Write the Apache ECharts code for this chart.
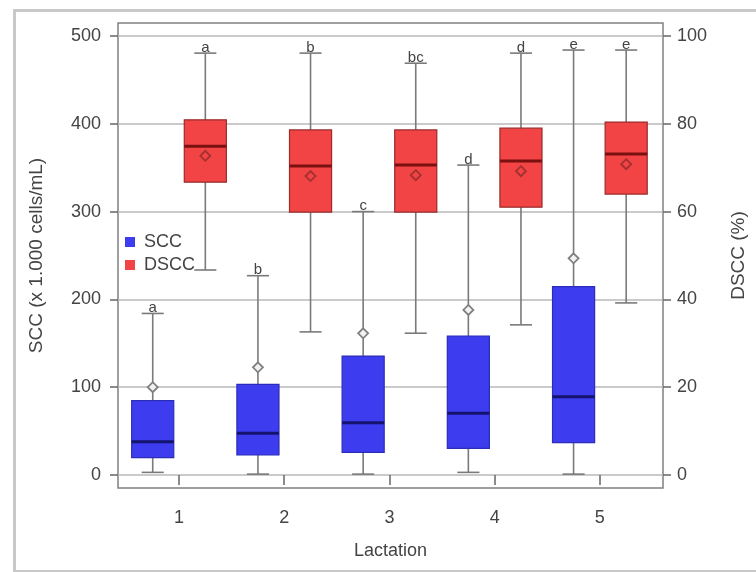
<!DOCTYPE html>
<html>
<head>
<meta charset="utf-8">
<script src="https://cdn.jsdelivr.net/npm/echarts@6/dist/echarts.min.js"></script>
<style>html,body{margin:0;padding:0;background:#fff}#c{width:756px;height:572px}</style>
</head>
<body>
<div id="c"></div>
<script>
// ---- data ----
const categories = ['1', '2', '3', '4', '5'];
const leftTicks = [0, 100, 200, 300, 400, 500];
const rightTicks = [0, 20, 40, 60, 80, 100];

const sccMin    = [3, 1, 1, 3, 1];
const sccQ1     = [19.7, 22.8, 25.8, 30.4, 36.8];
const sccMedian = [37.9, 47.5, 59.6, 70.3, 89.2];
const sccQ3     = [84.6, 103.3, 135.5, 158.3, 214.5];
const sccMax    = [184, 227, 300, 353, 484];
const sccMean   = [100, 122.7, 161.4, 188, 246.8];
const sccLetters = ['a', 'b', 'c', 'd', 'e'];

const dsccMin    = [46.7, 32.6, 32.3, 34.2, 39.2];
const dsccQ1     = [66.7, 59.9, 59.9, 61.0, 64.0];
const dsccMedian = [74.9, 70.4, 70.6, 71.5, 73.1];
const dsccQ3     = [80.9, 78.6, 78.6, 79.0, 80.4];
const dsccMax    = [96.1, 96.1, 93.8, 96.1, 96.8];
const dsccMean   = [72.7, 68.1, 68.3, 69.2, 70.8];
const dsccLetters = ['a', 'b', 'bc', 'd', 'e'];

function rows(mn, q1, md, q3, mx, mean) {
  return categories.map((c, i) => [i + 1, mn[i], q1[i], md[i], q3[i], mx[i], mean[i]]);
}

function makeRender(offset, st, letters) {
  return function (params, api) {
    const x = api.value(0) + offset;
    const unit = api.size([1, 0])[0];
    const hw = unit * 0.2, cw = unit * 0.105;
    const pMin = api.coord([x, api.value(1)]);
    const pQ1 = api.coord([x, api.value(2)]);
    const pMd = api.coord([x, api.value(3)]);
    const pQ3 = api.coord([x, api.value(4)]);
    const pMx = api.coord([x, api.value(5)]);
    const pMean = api.coord([x, api.value(6)]);
    const cx = pMin[0];
    const wStyle = { stroke: '#7a7a7a', lineWidth: 1.6 };
    const d = 5;
    return {
      type: 'group',
      children: [
        { type: 'line', shape: { x1: cx, y1: pMin[1], x2: cx, y2: pMx[1] }, style: wStyle },
        { type: 'line', shape: { x1: cx - cw, y1: pMin[1], x2: cx + cw, y2: pMin[1] }, style: wStyle },
        { type: 'line', shape: { x1: cx - cw, y1: pMx[1], x2: cx + cw, y2: pMx[1] }, style: wStyle },
        { type: 'rect', shape: { x: cx - hw, y: pQ3[1], width: 2 * hw, height: pQ1[1] - pQ3[1] },
          style: { fill: st.fill, stroke: st.border, lineWidth: 1.2 } },
        { type: 'line', shape: { x1: cx - hw, y1: pMd[1], x2: cx + hw, y2: pMd[1] },
          style: { stroke: st.median, lineWidth: 3 } },
        { type: 'polygon', shape: { points: [[cx, pMean[1] - d], [cx + d, pMean[1]], [cx, pMean[1] + d], [cx - d, pMean[1]]] },
          style: { fill: st.meanFill, stroke: st.meanStroke, lineWidth: 1.8 } },
        { type: 'text', x: cx, y: pMx[1] + 2,
          style: { text: letters[params.dataIndex], fill: '#444', fontSize: 15, fontFamily: 'Liberation Sans',
                   align: 'center', verticalAlign: 'bottom' } }
      ]
    };
  };
}

const font = 'Liberation Sans';
const axisGray = '#666';

const option = {
  animation: false,
  backgroundColor: '#fff',
  graphic: [{
    type: 'rect', left: 12, top: 8, z: -10,
    shape: { width: 760, height: 561 },
    style: { fill: 'none', stroke: '#c8c8c8', lineWidth: 3 }
  }],
  grid: { left: 118, top: 23, width: 545, height: 465, show: true, borderColor: '#808080', borderWidth: 1.5, backgroundColor: 'transparent' },
  legend: {
    orient: 'vertical', left: 125, top: 233, padding: 0, itemWidth: 10, itemHeight: 10, itemGap: 5,
    textStyle: { fontSize: 18, color: '#444', fontFamily: font, padding: [0, 0, 0, 4] },
    data: [{ name: 'SCC', icon: 'rect' }, { name: 'DSCC', icon: 'rect' }]
  },
  xAxis: {
    type: 'value', min: 0.42, max: 5.6,
    name: 'Lactation', nameLocation: 'middle', nameGap: 54,
    nameTextStyle: { fontSize: 18, color: '#444', fontFamily: font },
    axisLine: { show: false },
    axisTick: { show: true, length: 10, customValues: [1, 2, 3, 4, 5], lineStyle: { color: axisGray, width: 1.5 } },
    axisLabel: { customValues: [1, 2, 3, 4, 5], margin: 21, fontSize: 18, color: '#444', fontFamily: font,
                 formatter: v => categories[Math.round(v) - 1] },
    splitLine: { show: false }
  },
  yAxis: [{
    type: 'value', min: -14.8, max: 514.8, position: 'left',
    name: 'SCC (x 1.000 cells/mL)', nameLocation: 'middle', nameGap: 72,
    nameTextStyle: { fontSize: 19, color: '#444', fontFamily: font },
    axisLine: { show: false },
    axisTick: { show: true, length: 8, customValues: leftTicks, lineStyle: { color: axisGray, width: 1.5 } },
    axisLabel: { customValues: leftTicks, margin: 17, fontSize: 18, color: '#444', fontFamily: font },
    splitLine: { show: true, lineStyle: { color: '#b8b8b8', width: 1.5 } }
  }, {
    type: 'value', min: -2.96, max: 102.96, position: 'right',
    name: 'DSCC (%)', nameLocation: 'middle', nameGap: 66,
    nameTextStyle: { fontSize: 19, color: '#444', fontFamily: font },
    axisLine: { show: false },
    axisTick: { show: true, length: 8, customValues: rightTicks, lineStyle: { color: axisGray, width: 1.5 } },
    axisLabel: { customValues: rightTicks, margin: 14, fontSize: 18, color: '#444', fontFamily: font },
    splitLine: { show: false }
  }],
  series: [{
    name: 'SCC', type: 'custom', yAxisIndex: 0,
    itemStyle: { color: '#3d3def' },
    renderItem: makeRender(-0.25, { fill: '#3d3def', border: '#2c2cb8', median: '#14146e', meanFill: '#f2f2f2', meanStroke: '#808080' }, sccLetters),
    encode: { x: 0, y: [1, 2, 3, 4, 5, 6] },
    data: rows(sccMin, sccQ1, sccMedian, sccQ3, sccMax, sccMean)
  }, {
    name: 'DSCC', type: 'custom', yAxisIndex: 1,
    itemStyle: { color: '#f24444' },
    renderItem: makeRender(0.25, { fill: '#f24444', border: '#9a2b2b', median: '#7a1010', meanFill: 'rgba(0,0,0,0)', meanStroke: '#a33030' }, dsccLetters),
    encode: { x: 0, y: [1, 2, 3, 4, 5, 6] },
    data: rows(dsccMin, dsccQ1, dsccMedian, dsccQ3, dsccMax, dsccMean)
  }]
};

const chart = echarts.init(document.getElementById('c'), null, { renderer: 'canvas' });
chart.setOption(option);
</script>
</body>
</html>
